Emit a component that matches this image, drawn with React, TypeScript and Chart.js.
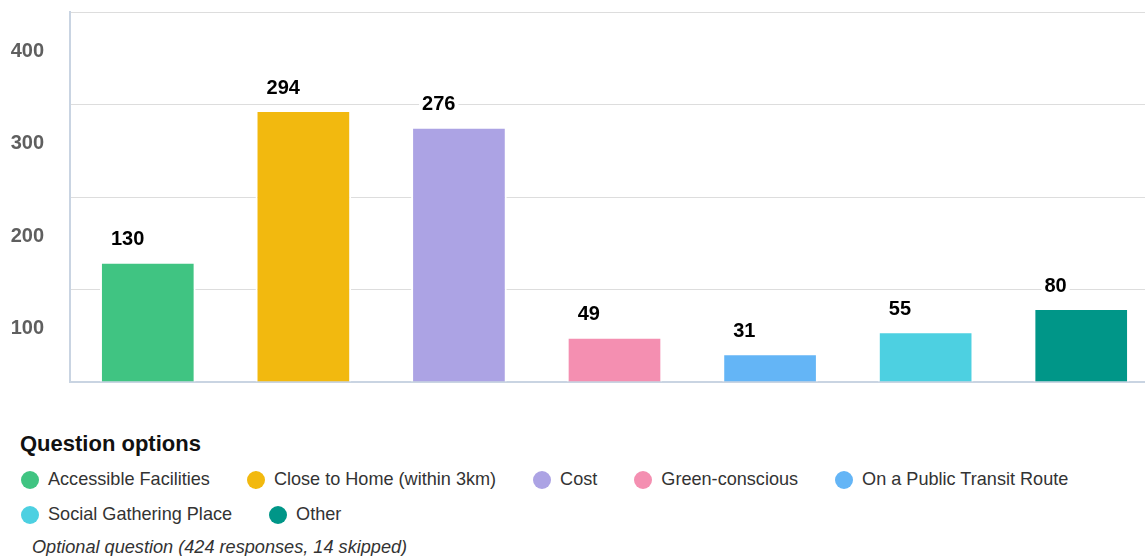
import React, { useEffect, useRef } from "react";
import { Chart, registerables } from "chart.js";

Chart.register(...registerables);

const categories = [
  "Accessible Facilities",
  "Close to Home (within 3km)",
  "Cost",
  "Green-conscious",
  "On a Public Transit Route",
  "Social Gathering Place",
  "Other",
];
const values = [130, 294, 276, 49, 31, 55, 80];
const colors = ["#40c482", "#f2b90f", "#aca3e4", "#f48fb1", "#64b5f6", "#4dd0e1", "#009688"];
const yMin = 0;
const yMax = 400;
const yStep = 100;
const legendTitle = "Question options";
const footnote = "Optional question (424 responses, 14 skipped)";

const FONT = "'Liberation Sans', Arial, Helvetica, sans-serif";

const valueLabels = {
  id: "valueLabels",
  afterDatasetsDraw(chart: any) {
    const ctx = chart.ctx;
    const meta = chart.getDatasetMeta(0);
    ctx.save();
    ctx.font = `bold 20px ${FONT}`;
    ctx.textBaseline = "middle";
    ctx.textAlign = "left";
    meta.data.forEach((el: any, i: number) => {
      const text = String(values[i]);
      const x = el.x - el.width / 2 + 11;
      const y = el.y - 22;
      const w = ctx.measureText(text).width;
      ctx.fillStyle = "#ffffff";
      ctx.fillRect(x - 3, y - 11, w + 6, 22);
      ctx.fillStyle = "#000000";
      ctx.fillText(text, x, y);
    });
    ctx.restore();
  },
};

export default function App() {
  const canvasRef = useRef<HTMLCanvasElement | null>(null);

  useEffect(() => {
    if (!canvasRef.current) return;
    const chart = new Chart(canvasRef.current, {
      type: "bar",
      data: {
        labels: categories,
        datasets: [
          {
            data: values,
            backgroundColor: colors,
            borderColor: "#ffffff",
            borderWidth: 2,
            barPercentage: 0.615,
            categoryPercentage: 1,
          },
        ],
      },
      options: {
        animation: false,
        responsive: true,
        maintainAspectRatio: false,
        layout: { padding: { top: 12, bottom: 4, left: 0, right: 0 } },
        plugins: {
          legend: { display: false },
          tooltip: { enabled: false },
        },
        scales: {
          x: {
            grid: { display: false, drawTicks: false },
            ticks: { display: false },
            border: { display: true, color: "#c9d4e2", width: 2 },
          },
          y: {
            min: yMin,
            max: yMax,
            afterFit(scale: any) {
              scale.width = 70;
              scale.paddingTop = 0;
              scale.paddingBottom = 0;
            },
            grid: { color: "#dddddd", lineWidth: 1, drawTicks: false },
            border: { display: true, color: "#c9d4e2", width: 2 },
            ticks: {
              stepSize: yStep,
              autoSkip: false,
              padding: 26,
              labelOffset: 39,
              color: "#5f5f5f",
              font: { family: FONT, size: 20, weight: "bold" },
              callback: (v: any) => (Number(v) === 0 ? "" : String(v)),
            },
          },
        },
      },
      plugins: [valueLabels],
    });
    return () => chart.destroy();
  }, []);

  return (
    <div
      style={{
        position: "fixed",
        left: 0,
        top: 0,
        width: 1145,
        height: 556,
        overflow: "hidden",
        background: "#ffffff",
        fontFamily: FONT,
      }}
    >
      <div style={{ position: "absolute", left: 0, top: 0, width: 1159, height: 386 }}>
        <canvas ref={canvasRef} />
      </div>
      <div
        style={{
          position: "absolute",
          left: 20,
          top: 430,
          fontSize: 22,
          fontWeight: "bold",
          color: "#111",
          lineHeight: "28px",
        }}
      >
        {legendTitle}
      </div>
      <div
        style={{
          position: "absolute",
          left: 21,
          top: 462,
          width: 1110,
          display: "flex",
          flexWrap: "wrap",
          rowGap: 0,
        }}
      >
        {categories.map((c, i) => (
          <div
            key={c}
            style={{
              display: "flex",
              alignItems: "center",
              height: 35,
              marginRight: 37,
              fontSize: 18.1,
              color: "#333",
            }}
          >
            <span
              style={{
                display: "inline-block",
                width: 18,
                height: 18,
                borderRadius: "50%",
                background: colors[i],
                marginRight: 9,
              }}
            />
            <span>{c}</span>
          </div>
        ))}
      </div>
      <div
        style={{
          position: "absolute",
          left: 32,
          top: 535,
          fontSize: 18.15,
          fontStyle: "italic",
          color: "#333",
          lineHeight: "24px",
        }}
      >
        {footnote}
      </div>
    </div>
  );
}
